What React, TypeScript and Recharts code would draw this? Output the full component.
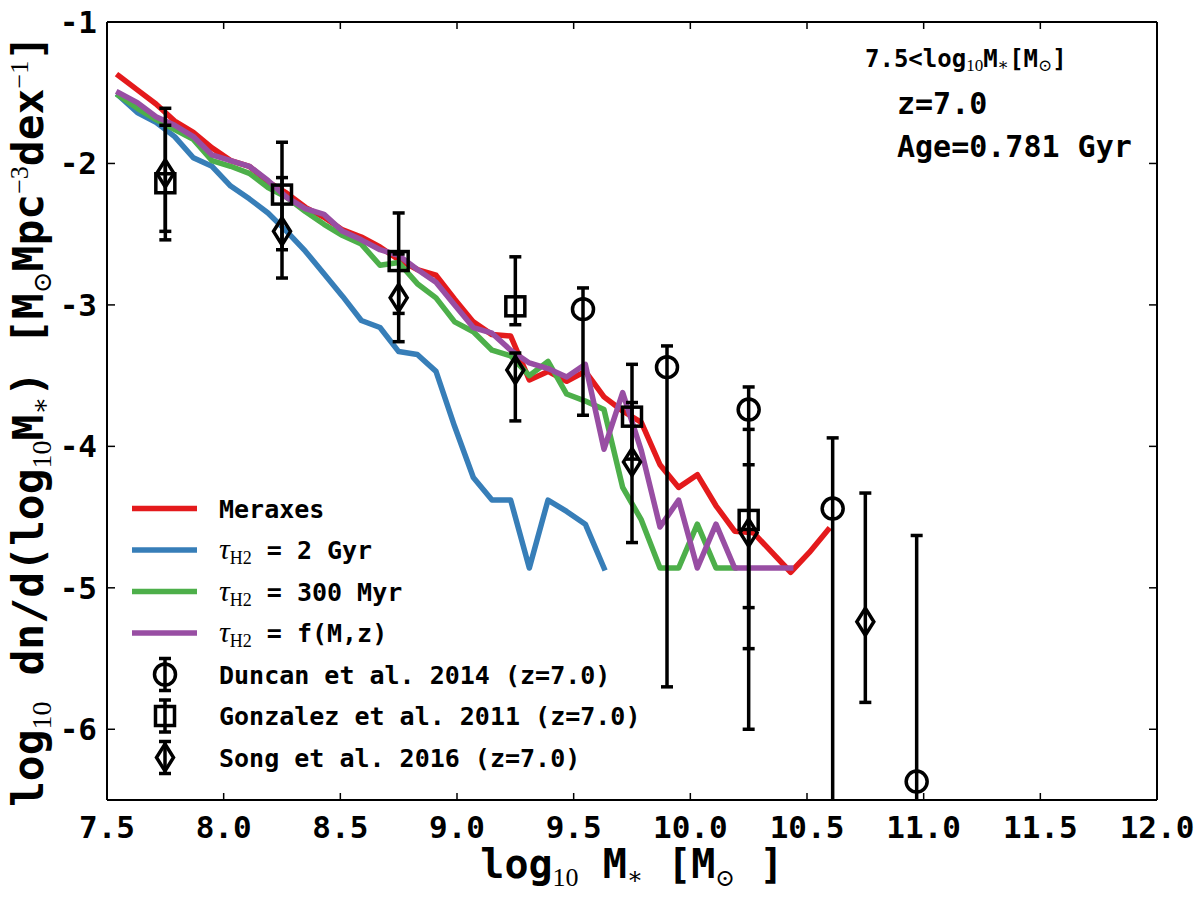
import { ComposedChart, Line, Scatter, ErrorBar, XAxis, YAxis, Legend } from "recharts";

const MONO = "'DejaVu Sans Mono', monospace";
const SERIF = "'Liberation Serif', 'DejaVu Serif', serif";

// stellar mass bins (log10 M*) of the model mass functions
const massBins = [
  7.55, 7.63, 7.71, 7.79, 7.87, 7.95, 8.03, 8.11, 8.19, 8.27, 8.35, 8.43, 8.51,
  8.59, 8.67, 8.75, 8.83, 8.91, 8.99, 9.07, 9.15, 9.23, 9.31, 9.39, 9.47, 9.55,
  9.63, 9.71, 9.79, 9.87, 9.95, 10.03, 10.11, 10.19, 10.27, 10.35, 10.43, 10.51,
  10.59,
];

const meraxes = [
  -1.38, -1.48, -1.58, -1.7, -1.78, -1.89, -1.98, -2.02, -2.13, -2.21, -2.31,
  -2.38, -2.47, -2.52, -2.59, -2.68, -2.75, -2.79, -2.96, -3.12, -3.21, -3.22,
  -3.53, -3.47, -3.54, -3.47, -3.65, -3.75, -3.83, -4.13, -4.29, -4.2, -4.42,
  -4.6, -4.61, -4.75, -4.89, -4.75, -4.59,
];

const tau2Gyr = [
  -1.52, -1.64, -1.71, -1.81, -1.96, -2.02, -2.16, -2.25, -2.35, -2.48, -2.62,
  -2.78, -2.94, -3.11, -3.16, -3.33, -3.35, -3.47, -3.86, -4.22, -4.38, -4.38,
  -4.86, -4.38, -4.46, -4.55, -4.86,
];

const tau300Myr = [
  -1.52, -1.61, -1.69, -1.76, -1.83, -1.98, -2.02, -2.07, -2.17, -2.24, -2.34,
  -2.43, -2.51, -2.57, -2.72, -2.7, -2.85, -2.95, -3.12, -3.19, -3.32, -3.36,
  -3.5, -3.4, -3.63, -3.68, -3.74, -4.29, -4.52, -4.86, -4.86, -4.55, -4.86,
  -4.86,
];

const tauFMz = [
  -1.5, -1.57, -1.67, -1.73, -1.81, -1.94, -1.98, -2.02, -2.12, -2.24, -2.32,
  -2.36, -2.48, -2.54, -2.61, -2.65, -2.75, -2.84, -3.0, -3.16, -3.2, -3.32,
  -3.41, -3.45, -3.51, -3.42, -4.02, -3.62, -4.03, -4.57, -4.38, -4.86, -4.55,
  -4.86, -4.86, -4.86, -4.86,
];

// observations: log10 phi with lower / upper errors
const duncanMass = [9.54, 9.9, 10.25, 10.61, 10.97];
const duncanPhi = [-3.03, -3.44, -3.74, -4.44, -6.37];
const duncanErrLo = [0.75, 2.26, 2.26, 3.0, 2.5];
const duncanErrHi = [0.15, 0.15, 0.16, 0.5, 1.74];

const gonzalezMass = [7.75, 8.25, 8.75, 9.25, 9.75, 10.25];
const gonzalezPhi = [-2.14, -2.22, -2.69, -3.01, -3.79, -4.52];
const gonzalezErrLo = [0.34, 0.39, 0.37, 0.13, 0.3, 0.62];
const gonzalezErrHi = [0.41, 0.37, 0.34, 0.35, 0.37, 0.39];

const songMass = [7.75, 8.25, 8.75, 9.25, 9.75, 10.25, 10.75];
const songPhi = [-2.07, -2.48, -2.95, -3.46, -4.11, -4.61, -5.24];
const songErrLo = [0.47, 0.33, 0.31, 0.36, 0.57, 0.82, 0.57];
const songErrHi = [0.46, 0.38, 0.31, 0.12, 0.42, 0.73, 0.91];

const xTicks = [7.5, 8.0, 8.5, 9.0, 9.5, 10.0, 10.5, 11.0, 11.5, 12.0];
const yTicks = [-1, -2, -3, -4, -5, -6];

const lineSeries = [
  { key: "meraxes", name: "Meraxes", color: "#e41a1c", values: meraxes },
  { key: "tau2Gyr", name: "τH2 = 2 Gyr", color: "#377eb8", values: tau2Gyr },
  { key: "tau300Myr", name: "τH2 = 300 Myr", color: "#4daf4a", values: tau300Myr },
  { key: "tauFMz", name: "τH2 = f(M,z)", color: "#984ea3", values: tauFMz },
];

const points = (xs: number[], ys: number[], lo: number[], hi: number[]) =>
  xs.map((x, i) => ({ x, y: ys[i], err: [lo[i], hi[i]] }));

const obsSeries = [
  { name: "Duncan et al. 2014 (z=7.0)", marker: "circle", data: points(duncanMass, duncanPhi, duncanErrLo, duncanErrHi) },
  { name: "Gonzalez et al. 2011 (z=7.0)", marker: "square", data: points(gonzalezMass, gonzalezPhi, gonzalezErrLo, gonzalezErrHi) },
  { name: "Song et al. 2016 (z=7.0)", marker: "diamond", data: points(songMass, songPhi, songErrLo, songErrHi) },
];

const modelRows = massBins.map((x, i) => {
  const row: Record<string, number | undefined> = { x };
  lineSeries.forEach((s) => {
    row[s.key] = s.values[i];
  });
  return row;
});

function marker(kind: string, cx: number, cy: number) {
  const common = { fill: "none", stroke: "#000", strokeWidth: 3.5 };
  if (kind === "circle") return <circle cx={cx} cy={cy} r={10.5} {...common} />;
  if (kind === "square") return <rect x={cx - 9.5} y={cy - 9.5} width={19} height={19} {...common} />;
  return (
    <path
      d={`M${cx},${cy - 13.5}L${cx + 8.5},${cy}L${cx},${cy + 13.5}L${cx - 8.5},${cy}Z`}
      {...common}
    />
  );
}

const sub = (text: string, size: number, dy: number) => (
  <tspan fontFamily={SERIF} fontWeight="normal" fontSize={size} dy={dy}>
    {text}
  </tspan>
);

function LegendBox() {
  const rowY = (i: number) => 28.5 + i * 41.5;
  return (
    <svg width={560} height={300} style={{ overflow: "visible" }}>
      {lineSeries.map((s, i) => {
        const cy = rowY(i);
        const tau = s.name.startsWith("τH2");
        return (
          <g key={s.key}>
            <line x1={12} x2={77} y1={cy} y2={cy} stroke={s.color} strokeWidth={5.5} />
            <text x={99} y={cy + 9} fontFamily={MONO} fontWeight="bold" fontSize={25} style={{ whiteSpace: "pre" }}>
              {tau ? (
                <>
                  <tspan fontFamily={SERIF} fontStyle="italic" fontWeight="normal" fontSize={30}>τ</tspan>
                  {sub("H2", 18, 5)}
                  <tspan dy={-5}>{s.name.slice(3)}</tspan>
                </>
              ) : (
                s.name
              )}
            </text>
          </g>
        );
      })}
      {obsSeries.map((s, j) => {
        const cy = rowY(j + 4);
        return (
          <g key={s.name}>
            <line x1={45} x2={45} y1={cy - 16} y2={cy + 16} stroke="#000" strokeWidth={3.5} />
            <line x1={39} x2={51} y1={cy - 16} y2={cy - 16} stroke="#000" strokeWidth={3.5} />
            <line x1={39} x2={51} y1={cy + 16} y2={cy + 16} stroke="#000" strokeWidth={3.5} />
            {marker(s.marker, 45, cy)}
            <text x={99} y={cy + 9} fontFamily={MONO} fontWeight="bold" fontSize={25}>
              {s.name}
            </text>
          </g>
        );
      })}
    </svg>
  );
}

const xLabel = () => (
  <text x={632} y={878} textAnchor="middle" fontFamily={MONO} fontWeight="bold" fontSize={40} style={{ whiteSpace: "pre" }}>
    <tspan>log</tspan>
    {sub("10", 26, 8)}
    <tspan dy={-8}> M</tspan>
    {sub("∗", 24, 6)}
    <tspan dy={-6}> [M</tspan>
    {sub("⊙", 24, 8)}
    <tspan dy={-8}> ]</tspan>
  </text>
);

const yLabel = () => (
  <text
    transform="translate(43,421) rotate(-90)"
    x={0}
    y={0}
    textAnchor="middle"
    fontFamily={MONO}
    fontWeight="bold"
    fontSize={43}
    style={{ whiteSpace: "pre" }}
  >
    <tspan>log</tspan>
    {sub("10", 28, 8)}
    <tspan dy={-8}> dn/d(log</tspan>
    {sub("10", 28, 8)}
    <tspan dy={-8}>M</tspan>
    {sub("∗", 26, 6)}
    <tspan dy={-6}>) [M</tspan>
    {sub("⊙", 26, 8)}
    <tspan dy={-8}>Mpc</tspan>
    {sub("−3", 26, -15)}
    <tspan dy={15}>dex</tspan>
    {sub("−1", 26, -15)}
    <tspan dy={15}>]</tspan>
  </text>
);

// text block in the upper right, plus the clip region used by the error bars
const annotation = () => (
  <g fontFamily={MONO} fontWeight="bold" fill="#000">
    <defs>
      <clipPath id="plot-area-clip">
        <rect x={107} y={22} width={1050} height={778} />
      </clipPath>
    </defs>
    <text x={865} y={67} fontSize={24} style={{ whiteSpace: "pre" }}>
      <tspan>{"7.5<log"}</tspan>
      {sub("10", 17, 4)}
      <tspan dy={-4}>M</tspan>
      {sub("∗", 17, 3)}
      <tspan dy={-3}>[M</tspan>
      {sub("⊙", 17, 4)}
      <tspan dy={-4}>]</tspan>
    </text>
    <text x={897} y={114} fontSize={30}>z=7.0</text>
    <text x={897} y={157} fontSize={30}>Age=0.781 Gyr</text>
  </g>
);

const tickFont = { fill: "#000", fontSize: 31, fontFamily: MONO, fontWeight: "bold" };
const frame = { stroke: "#000", strokeWidth: 2 };
const tickMark = { stroke: "#000", strokeWidth: 1.5 };
const blank = () => "";

export default function App() {
  return (
    <div style={{ position: "absolute", left: 0, top: 0, width: 1200, height: 900, background: "#fff" }}>
      <ComposedChart
        width={1200}
        height={900}
        data={modelRows}
        margin={{ top: 21, right: 42, bottom: 0, left: 0 }}
      >
        <XAxis
          dataKey="x"
          type="number"
          domain={[7.5, 12]}
          ticks={xTicks}
          interval={0}
          allowDataOverflow
          height={100}
          tickSize={-7}
          tickMargin={23}
          tick={tickFont}
          tickFormatter={(v: number) => v.toFixed(1)}
          axisLine={frame}
          tickLine={tickMark}
          label={xLabel}
        />
        <XAxis
          xAxisId="top"
          orientation="top"
          dataKey="x"
          type="number"
          domain={[7.5, 12]}
          ticks={xTicks}
          interval={0}
          allowDataOverflow
          height={1}
          tickSize={-7}
          tickFormatter={blank}
          axisLine={frame}
          tickLine={tickMark}
          label={annotation}
        />
        <YAxis
          type="number"
          domain={[-6.5, -1]}
          ticks={yTicks}
          interval={0}
          allowDataOverflow
          width={107}
          tickSize={-8}
          tickMargin={18}
          tick={tickFont}
          axisLine={frame}
          tickLine={tickMark}
          label={yLabel}
        />
        <YAxis
          yAxisId="right"
          orientation="right"
          type="number"
          domain={[-6.5, -1]}
          ticks={yTicks}
          interval={0}
          allowDataOverflow
          width={1}
          tickSize={-8}
          tickFormatter={blank}
          axisLine={frame}
          tickLine={tickMark}
        />
        <Legend
          layout="vertical"
          align="center"
          verticalAlign="middle"
          content={LegendBox}
          wrapperStyle={{ position: "absolute", left: 120, top: 480, width: 560, height: 300 }}
        />
        {lineSeries.map((s) => (
          <Line
            key={s.key}
            dataKey={s.key}
            name={s.name}
            type="linear"
            stroke={s.color}
            strokeWidth={5.5}
            strokeLinejoin="round"
            strokeLinecap="square"
            dot={false}
            activeDot={false}
            isAnimationActive={false}
          />
        ))}
        {obsSeries.map((s) => (
          <Scatter
            key={s.name}
            name={s.name}
            data={s.data}
            dataKey="y"
            isAnimationActive={false}
            shape={(p: any) => marker(s.marker, p.cx, p.cy)}
          >
            <ErrorBar
              dataKey="err"
              direction="y"
              width={6}
              strokeWidth={3.5}
              stroke="#000"
              clipPath="url(#plot-area-clip)"
            />
          </Scatter>
        ))}
      </ComposedChart>
    </div>
  );
}
